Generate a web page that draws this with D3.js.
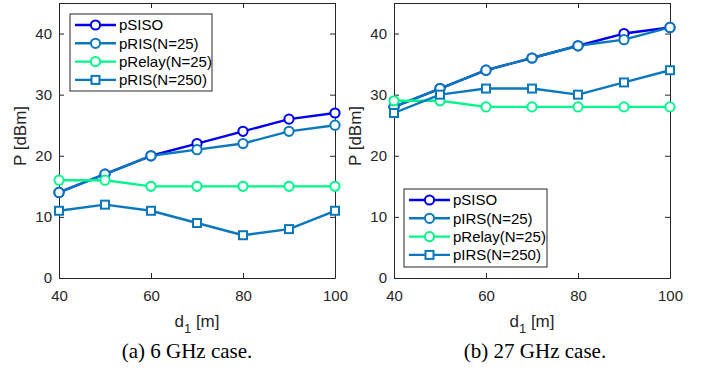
<!DOCTYPE html>
<html>
<head>
<meta charset="utf-8">
<script src="https://cdn.jsdelivr.net/npm/d3@7"></script>
<style>
  body { margin: 0; background: #fff; }
  svg { display: block; }
  .tick text { font-family: "Liberation Sans", Arial, sans-serif; font-size: 15px; fill: #262626; }
</style>
</head>
<body>
<svg id="chart" width="704" height="371"></svg>
<script>
const distances = [40, 50, 60, 70, 80, 90, 100];
const xTicks = [40, 60, 80, 100];
const yTicks = [0, 10, 20, 30, 40];

// 6 GHz case
const siso6 = [14, 17, 20, 22, 24, 26, 27];
const ris25_6 = [14, 17, 20, 21, 22, 24, 25];
const relay6 = [16, 16, 15, 15, 15, 15, 15];
const ris250_6 = [11, 12, 11, 9, 7, 8, 11];

// 27 GHz case
const siso27 = [28, 31, 34, 36, 38, 40, 41];
const irs25_27 = [28, 31, 34, 36, 38, 39, 41];
const relay27 = [29, 29, 28, 28, 28, 28, 28];
const irs250_27 = [27, 30, 31, 31, 30, 32, 34];

const labels6 = ["pSISO", "pRIS(N=25)", "pRelay(N=25)", "pRIS(N=250)"];
const labels27 = ["pSISO", "pIRS(N=25)", "pRelay(N=25)", "pIRS(N=250)"];

const seriesStyle = [
  { color: "#0000ee", shape: "circle" },
  { color: "#0b78be", shape: "circle" },
  { color: "#00f58a", shape: "circle" },
  { color: "#0b78be", shape: "square" },
];

const svg = d3.select("#chart");
const axisColor = "#262626";
const sans = "'Liberation Sans', Arial, sans-serif";

function drawMarker(g, shape, cx, cy, color) {
  if (shape === "circle") {
    g.append("circle").attr("cx", cx).attr("cy", cy).attr("r", 4.6)
      .attr("fill", "#fff").attr("stroke", color).attr("stroke-width", 2);
  } else {
    g.append("rect").attr("x", cx - 4).attr("y", cy - 4).attr("width", 8).attr("height", 8)
      .attr("fill", "#fff").attr("stroke", color).attr("stroke-width", 2);
  }
}

function panel(opts) {
  const { left, right, top, bottom, series, labels, legend, caption } = opts;
  const x = d3.scaleLinear().domain([40, 100]).range([left, right]);
  const y = d3.scaleLinear().domain([0, 45]).range([bottom, top]);
  const g = svg.append("g");

  // axes with inward ticks, box on
  const ax = g.append("g").attr("transform", `translate(0,${bottom})`)
    .call(d3.axisBottom(x).tickValues(xTicks).tickSizeInner(-5).tickSizeOuter(0).tickPadding(12));
  const ay = g.append("g").attr("transform", `translate(${left},0)`)
    .call(d3.axisLeft(y).tickValues(yTicks).tickSizeInner(-5).tickSizeOuter(0).tickPadding(7));
  const axTop = g.append("g").attr("transform", `translate(0,${top})`)
    .call(d3.axisTop(x).tickValues(xTicks).tickSizeInner(-5).tickSizeOuter(0).tickFormat(""));
  const ayRight = g.append("g").attr("transform", `translate(${right},0)`)
    .call(d3.axisRight(y).tickValues(yTicks).tickSizeInner(-5).tickSizeOuter(0).tickFormat(""));
  [ax, ay, axTop, ayRight].forEach((a) => {
    a.selectAll("path, line").attr("stroke", axisColor).attr("stroke-width", 1);
  });

  // axis labels
  g.append("text")
    .attr("transform", `translate(${left - 33},136) rotate(-90)`)
    .attr("text-anchor", "middle")
    .attr("font-family", sans).attr("font-size", 17)
    .attr("fill", axisColor).text("P [dBm]");
  const xl = g.append("text")
    .attr("x", (left + right) / 2).attr("y", 327)
    .attr("text-anchor", "middle")
    .attr("font-family", sans).attr("font-size", 17)
    .attr("fill", axisColor);
  xl.append("tspan").text("d");
  xl.append("tspan").attr("dy", 6).attr("font-size", 13).text("1");
  xl.append("tspan").attr("dy", -6).text(" [m]");

  // lines and markers
  const line = d3.line().x((d, i) => x(distances[i])).y((d) => y(d));
  series.forEach((vals, k) => {
    const st = seriesStyle[k];
    g.append("path").datum(vals).attr("d", line)
      .attr("fill", "none").attr("stroke", st.color).attr("stroke-width", 2.4)
      .attr("stroke-linejoin", "round");
  });
  series.forEach((vals, k) => {
    const st = seriesStyle[k];
    vals.forEach((v, i) => drawMarker(g, st.shape, x(distances[i]), y(v), st.color));
  });

  // legend
  const lg = g.append("g");
  lg.append("rect").attr("x", legend.x).attr("y", legend.y)
    .attr("width", legend.w).attr("height", legend.h)
    .attr("fill", "#fff").attr("stroke", axisColor).attr("stroke-width", 1);
  labels.forEach((lab, k) => {
    const st = seriesStyle[k];
    const yy = legend.y + 11 + k * 18.3;
    lg.append("line").attr("x1", legend.x + 5).attr("x2", legend.x + 46)
      .attr("y1", yy).attr("y2", yy).attr("stroke", st.color).attr("stroke-width", 2.4);
    drawMarker(lg, st.shape, legend.x + 25.5, yy, st.color);
    lg.append("text").attr("x", legend.x + 49).attr("y", yy).attr("dy", "0.36em")
      .attr("font-family", sans).attr("font-size", 15)
      .attr("fill", "#000").text(lab);
  });

  // caption
  g.append("text").attr("x", caption.x).attr("y", 358)
    .attr("text-anchor", "middle")
    .attr("font-family", "'Liberation Serif', 'DejaVu Serif', serif").attr("font-size", 21)
    .attr("fill", "#000").text(caption.text);
}

panel({
  left: 59, right: 335, top: 3, bottom: 278,
  series: [siso6, ris25_6, relay6, ris250_6],
  labels: labels6,
  legend: { x: 70, y: 14, w: 142, h: 77 },
  caption: { x: 187, text: "(a) 6 GHz case." },
});

panel({
  left: 394, right: 670, top: 3, bottom: 278,
  series: [siso27, irs25_27, relay27, irs250_27],
  labels: labels27,
  legend: { x: 404, y: 189, w: 143, h: 78 },
  caption: { x: 535, text: "(b) 27 GHz case." },
});
</script>
</body>
</html>
